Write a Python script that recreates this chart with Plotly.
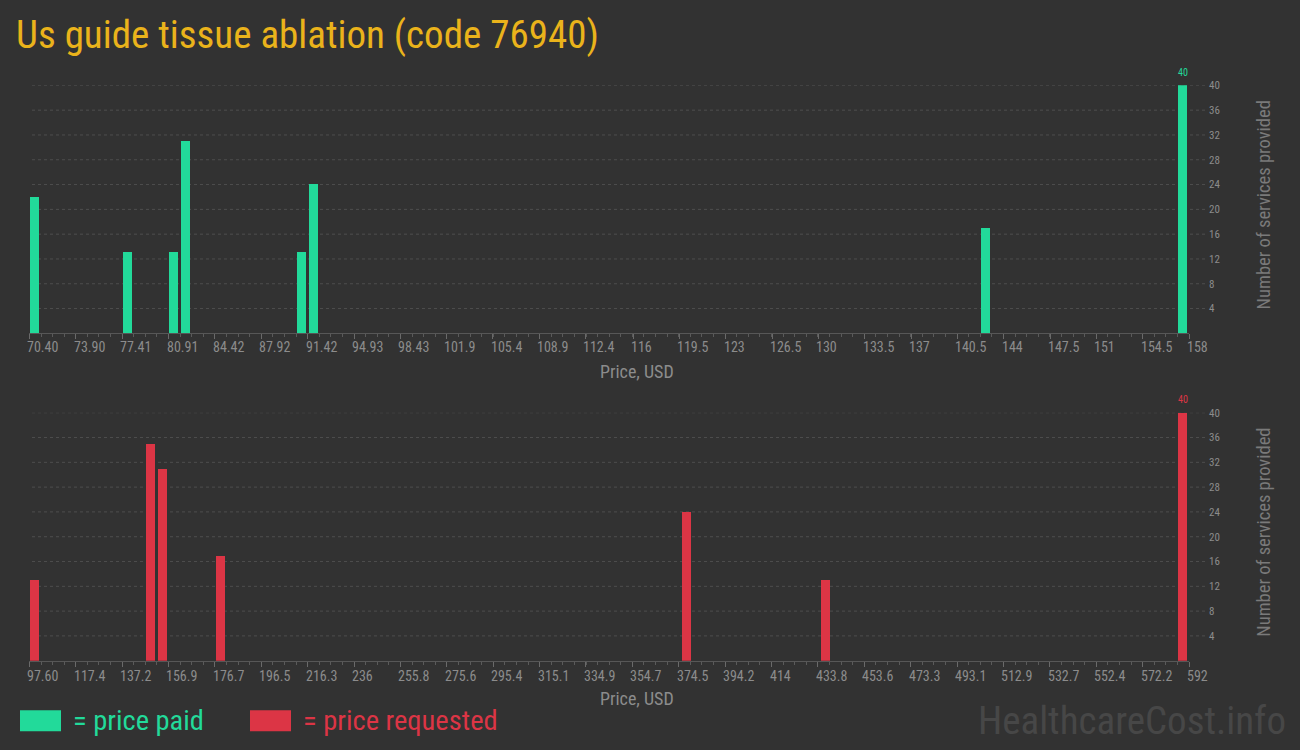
import plotly.graph_objects as go

# ---------------- data ----------------
paid_prices = [70.84, 77.85, 81.35, 82.23, 90.99, 91.86, 142.67, 157.56]
paid_counts = [22, 13, 13, 31, 13, 24, 17, 40]
paid_tick_labels = ["70.40", "73.90", "77.41", "80.91", "84.42", "87.92", "91.42",
                    "94.93", "98.43", "101.9", "105.4", "108.9", "112.4", "116",
                    "119.5", "123", "126.5", "130", "133.5", "137", "140.5", "144",
                    "147.5", "151", "154.5", "158"]

req_prices = [100.07, 149.51, 154.46, 179.18, 377.94, 437.27, 589.53]
req_counts = [13, 35, 31, 17, 24, 13, 40]
req_tick_labels = ["97.60", "117.4", "137.2", "156.9", "176.7", "196.5", "216.3",
                   "236", "255.8", "275.6", "295.4", "315.1", "334.9", "354.7",
                   "374.5", "394.2", "414", "433.8", "453.6", "473.3", "493.1",
                   "512.9", "532.7", "552.4", "572.2", "592"]

count_ticks = [4, 8, 12, 16, 20, 24, 28, 32, 36, 40]

title_text = "Us guide tissue ablation (code 76940)"
x_title = "Price, USD"
y_title = "Number of services provided"

# ---------------- style ----------------
W, H = 1300, 750
BG = "#323232"
GREEN = "#22DA9A"
RED = "#DC3545"
TITLE_C = "#EAB31B"
TICK_C = "#8C8C8C"
AXIS_C = "#575757"
GRID_C = "#4E4E4E"
NARROW = "Roboto Condensed, Liberation Sans Narrow, DejaVu Sans Condensed, Roboto, sans-serif"
COND = "Roboto Condensed, Roboto, sans-serif"

PX_L, PX_R = 29.4, 1189.0


def px_x(v):
    return v / W


def px_y(v):
    return 1 - v / H


fig = go.Figure()
annotations = []
shapes = []

panels = [
    dict(prices=paid_prices, counts=paid_counts, ticks=paid_tick_labels, color=GREEN,
         top=80, bottom=330, xa="x", ya="y", lab_y=344, title_y=368, val_y=67),
    dict(prices=req_prices, counts=req_counts, ticks=req_tick_labels, color=RED,
         top=410, bottom=660, xa="x2", ya="y2", lab_y=675, title_y=698, val_y=397),
]

for i, p in enumerate(panels):
    tickvals = [float(t) for t in p["ticks"]]
    lo, hi = tickvals[0], tickvals[-1]
    bin_w = (hi - lo) / 100
    bar_w = bin_w * 0.77
    fig.add_trace(go.Bar(x=p["prices"], y=p["counts"], width=bar_w,
                         marker=dict(color=p["color"], line=dict(width=0)),
                         xaxis=p["xa"], yaxis=p["ya"], showlegend=False,
                         hoverinfo="x+y"))
    sfx = "" if i == 0 else "2"
    xdom = [px_x(PX_L), px_x(PX_R)]
    ydom = [px_y(p["bottom"]), px_y(p["top"])]
    fig.update_layout(**{
        "xaxis" + sfx: dict(domain=xdom, range=[lo, hi], anchor="y" + sfx,
                            showgrid=False, zeroline=False, showline=True,
                            linecolor=AXIS_C, linewidth=1,
                            tickmode="array", tickvals=tickvals,
                            ticks="outside", ticklen=5, tickcolor="#6A6A6A",
                            showticklabels=False, fixedrange=True,
                            minor=dict(ticks="outside", ticklen=3, tickcolor="#5A5A5A",
                                       tick0=lo, dtick=bin_w, showgrid=False)),
        "yaxis" + sfx: dict(domain=ydom, range=[0, 40], anchor="x" + sfx, side="right",
                            showgrid=False, zeroline=False, showline=False,
                            tickmode="array", tickvals=count_ticks,
                            ticks="", ticklabelstandoff=19,
                            tickfont=dict(family=NARROW, size=11, color=TICK_C),
                            fixedrange=True),
    })
    # dotted grid lines
    for c in count_ticks:
        shapes.append(dict(type="line", xref="paper", yref="y" + sfx,
                           x0=px_x(32), x1=px_x(1207), y0=c, y1=c,
                           line=dict(color=GRID_C, width=1, dash="dot"), layer="below"))
    # x tick labels, left-anchored near tick
    for tv, tl in zip(tickvals, p["ticks"]):
        annotations.append(dict(x=tv, xref=p["xa"], y=px_y(p["lab_y"]), yref="paper",
                                text=tl, showarrow=False, xanchor="left", yanchor="middle",
                                xshift=-4,
                                font=dict(family=NARROW, size=14, color=TICK_C)))
    # x title
    annotations.append(dict(x=px_x(637), y=px_y(p["title_y"]), xref="paper", yref="paper",
                            text=x_title, showarrow=False, xanchor="center", yanchor="middle",
                            font=dict(family=COND, size=18, color=TICK_C)))
    # y title
    annotations.append(dict(x=px_x(1264), y=px_y((p["top"] + p["bottom"]) / 2 - 4),
                            xref="paper", yref="paper", text=y_title, textangle=-90,
                            showarrow=False, xanchor="center", yanchor="middle",
                            font=dict(family=COND, size=18.5, color="#7A7A7A")))
    # value label over max bar
    mi = p["counts"].index(max(p["counts"]))
    annotations.append(dict(x=p["prices"][mi], xref=p["xa"], y=px_y(p["val_y"]), yref="paper",
                            text=str(p["counts"][mi]), showarrow=False,
                            xanchor="center", yanchor="middle",
                            font=dict(family=NARROW, size=10, color=p["color"])))

# title
annotations.append(dict(x=px_x(14), y=px_y(29), xref="paper", yref="paper",
                        text=title_text, showarrow=False, xanchor="left", yanchor="middle",
                        font=dict(family=COND, size=39, color=TITLE_C)))

# legend
legend_items = [("= price paid", GREEN, 20), ("= price requested", RED, 250)]
for txt, col, x0 in legend_items:
    shapes.append(dict(type="rect", xref="paper", yref="paper",
                       x0=px_x(x0), x1=px_x(x0 + 41), y0=px_y(731), y1=px_y(710),
                       fillcolor=col, line=dict(width=0)))
    annotations.append(dict(x=px_x(x0 + 51), y=px_y(720), xref="paper", yref="paper",
                            text=txt, showarrow=False, xanchor="left", yanchor="middle",
                            font=dict(family=COND, size=28.5, color=col)))

# watermark
annotations.append(dict(x=px_x(1288), y=px_y(721), xref="paper", yref="paper",
                        text="HealthcareCost.info", showarrow=False,
                        xanchor="right", yanchor="middle",
                        font=dict(family=COND, size=39, color="#474747")))

fig.update_layout(width=W, height=H, margin=dict(l=0, r=0, t=0, b=0),
                  paper_bgcolor=BG, plot_bgcolor=BG, bargap=0,
                  annotations=annotations, shapes=shapes, showlegend=False)

fig.write_html("out.html", config={"displayModeBar": False},
               post_script="document.body.style.margin='0';document.body.style.padding='0';"
                           "document.body.style.overflow='hidden';"
                           "document.body.style.background='" + BG + "';")
